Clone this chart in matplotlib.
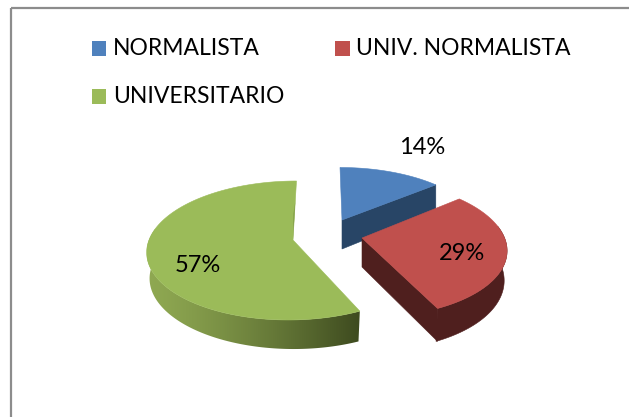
import numpy as np
import matplotlib
matplotlib.use("Agg")
import matplotlib.pyplot as plt
from matplotlib.patches import Polygon, Rectangle

categories = ["NORMALISTA", "UNIV. NORMALISTA", "UNIVERSITARIO"]
values = [14, 29, 57]
labels = ["14%", "29%", "57%"]
top_colors = ["#4f81bd", "#c0504d", "#9bbb59"]
apexes = [(342, 220), (362, 238), (293, 240)]
x_scales = [0.94, 0.99, 1.0]
y_scales = [0.89, 0.99, 1.0]
shears = [-2.3, -5.0, 4.0]
depths = [29, 29, 29]
depth_cos = [0.15, 0.15, 0.0]
depth_sin = [0.0, 0.0, 3.0]
label_pos = [(422, 147), (462, 254), (198, 265)]
legend_pos = [(91.5, 41), (335, 41), (91.5, 89)]

W, H = 629, 417
A, B, K = 144.0, 67.9, 0.151
INSET = 0.98

fig = plt.figure(figsize=(W / 100, H / 100), dpi=100)
ax = fig.add_axes([0, 0, 1, 1])
ax.set_xlim(0, W)
ax.set_ylim(H, 0)
ax.axis("off")

ax.add_patch(Rectangle((11.2, 7.7), 700, 500, fill=False, ec="#8c8c8c", lw=1.6, zorder=0))


def pt(i, th):
    u, v = np.sin(th), np.cos(th)
    w = 1 + K * v
    return (apexes[i][0] + x_scales[i] * A * u / w + shears[i] * v / w,
            apexes[i][1] - y_scales[i] * B * v / w)


def depth_at(i, th):
    return depths[i] * (1 - depth_cos[i] * np.cos(th)) + depth_sin[i] * np.sin(th)


fr = np.cumsum([0] + values) / sum(values) * 2 * np.pi
side_colors = {0: "#284566", 1: "#4f1f1e"}
grad_left = np.array([0.56, 0.66, 0.32])
grad_right = np.array([0.24, 0.29, 0.12])

for i in [0, 2, 1]:
    ap = apexes[i]
    ths = np.linspace(fr[i], fr[i + 1], 300)
    xs, ys = pt(i, ths)
    dd = depth_at(i, ths)
    vis = np.cos(ths) < 0.18
    wall = None
    if vis.any():
        wx, wy, wd = xs[vis], ys[vis], dd[vis]
        bx = ap[0] + (wx - ap[0]) * INSET
        wall = list(zip(wx, wy)) + list(zip(bx[::-1], (wy + wd)[::-1]))
    x1, y1 = pt(i, fr[i + 1])
    if i == 2:
        grad = np.linspace(0, 1, 256) ** 1.3
        img = (1 - grad)[:, None] * grad_left + grad[:, None] * grad_right
        im = ax.imshow(img[None, :, :], extent=(wx.min(), wx.max(), H, 0),
                       aspect="auto", zorder=2, interpolation="bilinear")
        p = Polygon(wall, fc="none", ec="none")
        ax.add_patch(p)
        im.set_clip_path(p)
        ax.set_xlim(0, W)
        ax.set_ylim(H, 0)
    else:
        c = side_colors[i]
        if wall:
            ax.add_patch(Polygon(wall, fc=c, ec=c, lw=0.4, zorder=2))
        ax.add_patch(Polygon([ap, (x1, y1), (x1, y1 + depth_at(i, fr[i + 1])), (ap[0], ap[1] + depths[i])],
                             fc=c, ec=c, lw=0.4, zorder=2))
    ax.add_patch(Polygon([ap] + list(zip(xs, ys)), fc=top_colors[i], ec=top_colors[i], lw=0.4, zorder=3))
    if i == 2:
        tx, ty = pt(i, fr[i + 1])
        m = 0.35
        mx, my = tx + (ap[0] - tx) * m, ty + (ap[1] - ty) * m
        ax.add_patch(Polygon([(mx, my), ap, (mx - 1.8, my + 12)], fc="#7f9a47", ec="none", zorder=4))

for t, (x, y) in zip(labels, label_pos):
    ax.text(x, y, t, ha="center", va="center", fontsize=17, family="Lato", color="black", zorder=5)

for c, col, (x, y) in zip(categories, top_colors, legend_pos):
    ax.add_patch(Rectangle((x, y), 14.5, 15, fc=col, ec="none", zorder=4))
    ax.text(x + 21.5, y + 7.5, c, ha="left", va="center", fontsize=16.5, family="Lato", color="black", zorder=5)

fig.savefig("out.png", dpi=100)
